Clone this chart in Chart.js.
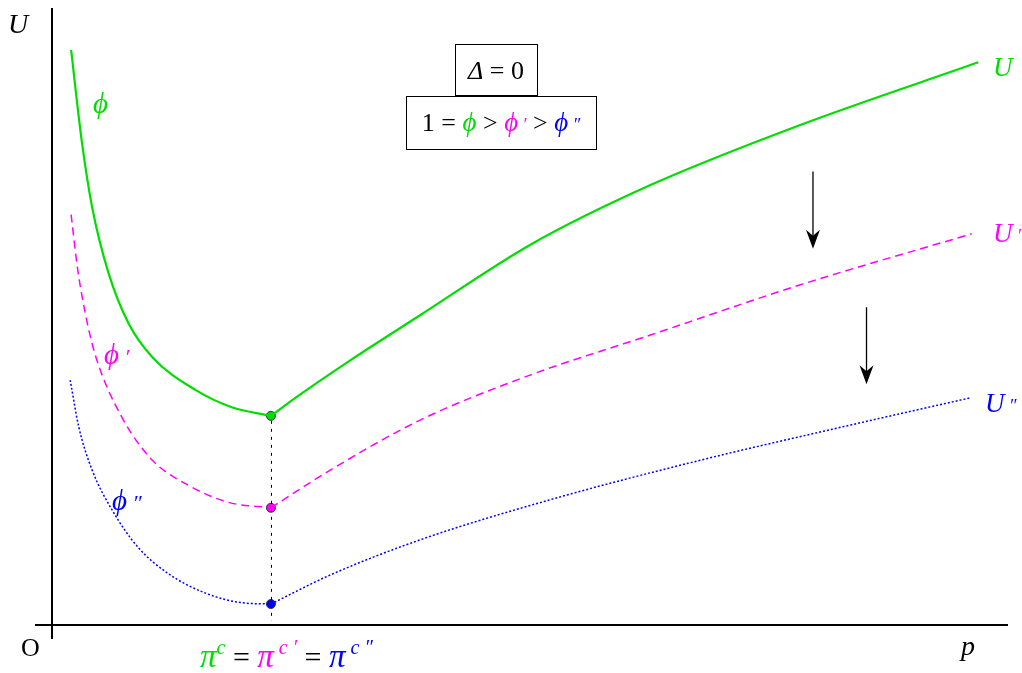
<!DOCTYPE html>
<html><head><meta charset="utf-8">
<script src="https://cdn.jsdelivr.net/npm/chart.js@4"></script>
<style>html,body{margin:0;padding:0;background:#fff}canvas{display:block}</style>
</head><body>
<canvas id="c" width="1022" height="673"></canvas>
<script>
// ---- data (p on x, U on y, abstract units 0..10) ----
const minP = 2.29;
const uLeft   = [[0.20,9.32],[0.31,7.86],[0.42,6.77],[0.59,5.71],[0.80,4.89],[1.05,4.34],[1.50,3.81],[1.88,3.53],[2.29,3.39]];
const uRight  = [[2.29,3.39],[2.59,3.73],[3.12,4.29],[3.85,5.02],[5.00,6.16],[6.26,7.13],[7.82,8.10],[9.69,9.12]];
const u1Left  = [[0.20,6.65],[0.27,5.75],[0.37,4.89],[0.47,4.29],[0.73,3.37],[1.05,2.67],[1.42,2.27],[1.84,1.99],[2.29,1.90]];
const u1Right = [[2.29,1.90],[2.91,2.51],[3.85,3.32],[5.00,4.05],[6.26,4.70],[7.82,5.51],[9.62,6.34]];
const u2Left  = [[0.19,3.97],[0.28,3.21],[0.42,2.51],[0.63,1.86],[0.90,1.26],[1.21,0.84],[1.60,0.52],[1.99,0.36],[2.29,0.34]];
const u2Right = [[2.29,0.34],[2.91,0.81],[3.85,1.38],[5.21,2.03],[6.78,2.67],[8.35,3.24],[9.60,3.68]];
const minima  = [3.39, 1.90, 0.34];
const arrows  = [[7.96,7.35,6.10],[8.52,5.15,3.90]]; // x, yFrom, yTo

const GREEN = '#00dd00', MAG = '#ff00ff', BLUE = '#0000ff';
const SERIF = '"Liberation Serif","DejaVu Serif",serif';
const toXY = a => a.map(([x,y]) => ({x,y}));

function line(data, color, dash, width){
  return {type:'line', data:toXY(data), borderColor:color, borderWidth:width, borderDash:dash,
    pointRadius:0, fill:false, cubicInterpolationMode:'monotone'};
}

function seg(ctx, x, y, parts){
  let cx = x;
  for (const [t,col,it,size,dy] of parts){
    ctx.font = (it?'italic ':'') + size + 'px ' + SERIF;
    ctx.fillStyle = col;
    ctx.fillText(t, cx, y + (dy||0));
    cx += ctx.measureText(t).width;
  }
  return cx - x;
}
function segWidth(ctx, parts){
  let w = 0;
  for (const [t,col,it,size] of parts){ ctx.font=(it?'italic ':'')+size+'px '+SERIF; w += ctx.measureText(t).width; }
  return w;
}

const deco = {
  id:'deco',
  afterDatasetsDraw(chart){
    const {ctx, scales:{x, y}} = chart;
    const X = v => x.getPixelForValue(v), Y = v => y.getPixelForValue(v);
    ctx.save();
    // axes
    ctx.strokeStyle = '#000'; ctx.lineWidth = 2; ctx.setLineDash([]);
    ctx.beginPath(); ctx.moveTo(X(0)-17, Y(0)); ctx.lineTo(X(10), Y(0)); ctx.stroke();
    ctx.beginPath(); ctx.moveTo(X(0), Y(10)); ctx.lineTo(X(0), Y(0)+14); ctx.stroke();
    // vertical dotted line at minimum
    ctx.lineWidth = 1; ctx.setLineDash([3,5]);
    const vx = Math.round(X(minP)) + 0.5;
    ctx.beginPath(); ctx.moveTo(vx, Y(minima[0])+5); ctx.lineTo(vx, Y(0)-4); ctx.stroke();
    ctx.setLineDash([]);
    // arrows
    ctx.fillStyle = '#000'; ctx.lineWidth = 1.3;
    for (const [ax, y0, y1] of arrows){
      const px = X(ax), p0 = Y(y0), p1 = Y(y1);
      ctx.beginPath(); ctx.moveTo(px, p0); ctx.lineTo(px, p1-6); ctx.stroke();
      ctx.beginPath(); ctx.moveTo(px, p1); ctx.lineTo(px-7, p1-19); ctx.lineTo(px, p1-13); ctx.lineTo(px+7, p1-19); ctx.closePath(); ctx.fill();
    }
    // text
    ctx.textBaseline = 'alphabetic'; ctx.textAlign = 'left';
    seg(ctx, 8, 33, [['U','#000',true,28]]);
    seg(ctx, 21, 656, [['O','#000',false,26]]);
    seg(ctx, 961, 655, [['p','#000',true,28]]);
    seg(ctx, 93, 113, [['ϕ',GREEN,true,29]]);
    seg(ctx, 104, 364, [['ϕ',MAG,true,29],[' ′',MAG,true,22]]);
    seg(ctx, 112, 510, [['ϕ',BLUE,true,29],[' ″',BLUE,true,22]]);
    seg(ctx, 993, 76, [['U',GREEN,true,27]]);
    seg(ctx, 993, 242, [['U',MAG,true,27],[' ′',MAG,true,18]]);
    seg(ctx, 985, 412, [['U',BLUE,true,27],[' ″',BLUE,true,18]]);
    // boxes
    ctx.strokeStyle = '#000'; ctx.lineWidth = 1;
    ctx.strokeRect(455.5, 44.5, 82, 51);
    ctx.strokeRect(406.5, 96.5, 190, 53);
    const b1 = [['Δ','#000',true,26],[' = 0','#000',false,26]];
    seg(ctx, 496 - segWidth(ctx,b1)/2, 79, b1);
    const b2 = [['1 = ','#000',false,26],['ϕ',GREEN,true,27],[' > ','#000',false,26],['ϕ',MAG,true,27],[' ′',MAG,true,18],[' > ','#000',false,26],['ϕ',BLUE,true,27],[' ″',BLUE,true,18]];
    seg(ctx, 501 - segWidth(ctx,b2)/2, 131, b2);
    // bottom label
    seg(ctx, 200, 667, [['π',GREEN,true,33],['c',GREEN,true,20,-13],[' = ','#000',false,30],
      ['π',MAG,true,33],[' c ′',MAG,true,20,-13],[' = ','#000',false,30],
      ['π',BLUE,true,33],[' c ″',BLUE,true,20,-13]]);
    ctx.restore();
  }
};

new Chart(document.getElementById('c'), {
  type:'line',
  data:{datasets:[
    line(uLeft, GREEN, [], 2.2), line(uRight, GREEN, [], 2.2),
    line(u1Left, MAG, [8,5], 1.5), line(u1Right, MAG, [8,5], 1.5),
    line(u2Left, BLUE, [2,2], 1.5), line(u2Right, BLUE, [2,2], 1.5),
    {type:'scatter', data:minima.map(v=>({x:minP,y:v})),
     backgroundColor:[GREEN,MAG,BLUE], borderColor:'#333', borderWidth:1, pointRadius:4.5}
  ]},
  options:{
    responsive:false, devicePixelRatio:1, animation:false,
    layout:{padding:{left:52, right:14, top:8, bottom:48}},
    plugins:{legend:{display:false}, tooltip:{enabled:false}},
    scales:{
      x:{type:'linear', min:0, max:10, display:false},
      y:{type:'linear', min:0, max:10, display:false}
    }
  },
  plugins:[deco]
});
</script>
</body></html>
